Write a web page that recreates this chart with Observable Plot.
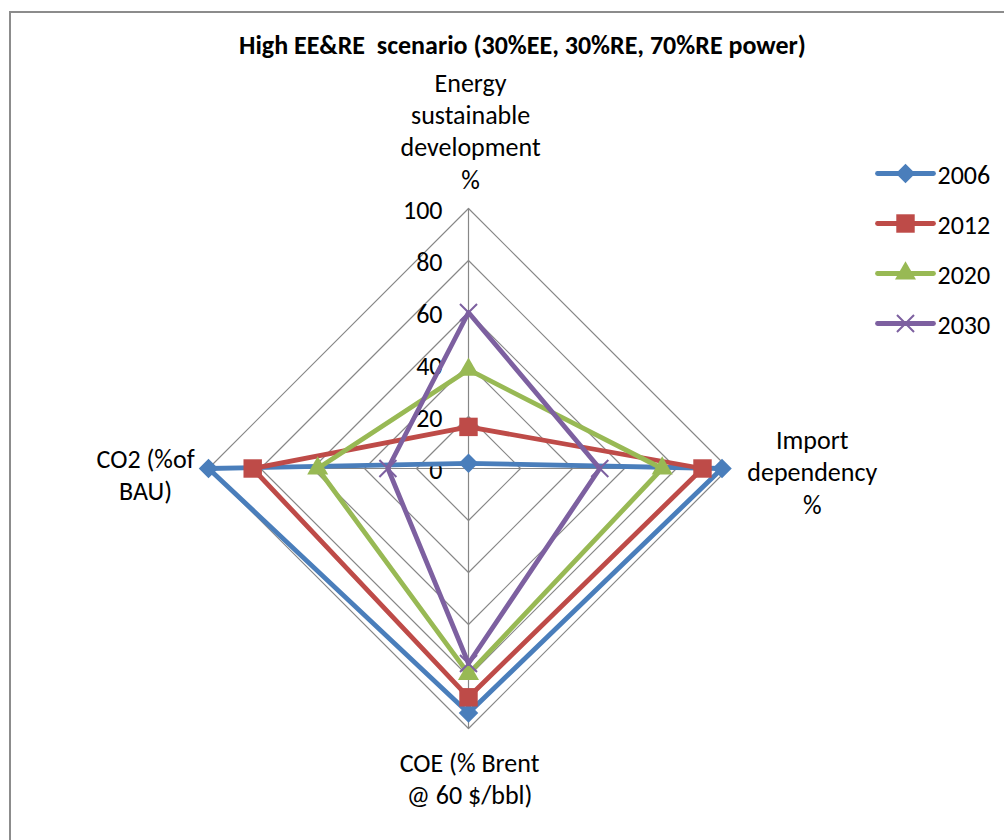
<!DOCTYPE html>
<html>
<head>
<meta charset="utf-8">
<script src="https://cdn.jsdelivr.net/npm/d3@7"></script>
<script src="https://cdn.jsdelivr.net/npm/@observablehq/plot@0.6"></script>
<style>
  html, body { margin: 0; padding: 0; background: #fff; overflow: hidden; }
  #wrap { position: relative; width: 1004px; height: 840px; overflow: hidden; }
  #frame { position: absolute; left: 9px; top: 11px; width: 1200px; height: 1000px;
           border: 2px solid #8c8c8c; box-sizing: border-box; }
  #chart { position: absolute; left: 0; top: 0; }
</style>
</head>
<body>
<div id="wrap"><div id="frame"></div><div id="chart"></div></div>
<script>
// ---- data ----
const axisLabels = ["Energy\nsustainable\ndevelopment\n%", "Import\ndependency\n%", "COE (% Brent\n@ 60 $/bbl)", "CO2 (%of\nBAU)"];
const years = ["2006", "2012", "2020", "2030"];
const v2006 = [2, 97.5, 94, 100];
const v2012 = [16, 90, 88, 83];
const v2020 = [38, 74.5, 79, 58];
const v2030 = [60, 50.5, 75, 31];
const tickValues = [0, 20, 40, 60, 80, 100];
const titleText = "High EE\u0026RE  scenario (30%EE, 30%RE, 70%RE power)";

// ---- styling / layout ----
const colors = ["#4A7EBB", "#BE4B48", "#98B954", "#7D60A0"];
const symbols = ["diamond2", "square", "triangle", "times"];
const symR = [8.8, 10.4, 7.8, 7.8];
const font = "Carlito, Lato, 'Open Sans', sans-serif";
const W = 1004, H = 840, cx = 468, cy = 468, k = 2.6; // px per unit
const maxV = 100;

const angle = i => Math.PI / 2 - i * Math.PI / 2;
const series = [v2006, v2012, v2020, v2030];

const rows = [];
series.forEach((vals, s) => vals.forEach((v, i) => rows.push({
  year: years[s], axis: i, v, x: v * Math.cos(angle(i)), y: v * Math.sin(angle(i))
})));

const grid = [];
tickValues.filter(t => t > 0).forEach(t => axisLabels.forEach((a, i) =>
  grid.push({t, x: t * Math.cos(angle(i)), y: t * Math.sin(angle(i))})));

const spokes = axisLabels.map((a, i) => ({x: maxV * Math.cos(angle(i)), y: maxV * Math.sin(angle(i))}));

// axis label placement (in units)
const labelPos = [
  {x: 0.8, y: 130.2}, {x: 132.2, y: -1}, {x: 0.4, y: -118.8}, {x: -124.2, y: -1.9}
];
const axisRows = axisLabels.map((label, i) => ({label, ...labelPos[i]}));

// legend layout (in units)
const legX1 = (877 - cx) / k, legX2 = (933 - cx) / k, legXm = (905 - cx) / k, legXt = (937 - cx) / k;
const legY = [173, 223, 273, 323].map(p => (cy - p) / k);
const legend = years.map((y, i) => ({year: y, y: legY[i]}));

const fs = 26;
const marks = [
  Plot.line(grid, {x: "x", y: "y", z: "t", curve: "linear-closed", stroke: "#878787", strokeWidth: 1.2}),
  Plot.link(spokes, {x1: 0, y1: 0, x2: "x", y2: "y", stroke: "#878787", strokeWidth: 1.2}),
  Plot.text(tickValues, {x: 0, y: d => d, text: d => String(d), textAnchor: "end", dx: -26, dy: 2,
    fontSize: fs, fill: "#000"}),
  Plot.text(axisRows, {x: "x", y: "y", text: "label", textAnchor: "middle", lineAnchor: "middle",
    lineHeight: 1.24, fontSize: fs, fill: "#000"}),
];

years.forEach((yr, s) => {
  const d = rows.filter(r => r.year === yr);
  marks.push(Plot.line(d, {x: "x", y: "y", curve: "linear-closed", stroke: colors[s], strokeWidth: 4.8,
    strokeLinejoin: "round"}));
  const isStroke = symbols[s] === "times";
  marks.push(Plot.dot(d, {x: "x", y: "y", symbol: () => symbols[s], r: symR[s],
    fill: isStroke ? "none" : colors[s], stroke: isStroke ? colors[s] : "none", strokeWidth: 2}));
  const lg = legend.filter(l => l.year === yr);
  marks.push(Plot.link(lg, {x1: legX1, x2: legX2, y1: "y", y2: "y", stroke: colors[s], strokeWidth: 4.8,
    strokeLinecap: "round"}));
  marks.push(Plot.dot(lg, {x: legXm, y: "y", symbol: () => symbols[s], r: symR[s],
    fill: isStroke ? "none" : colors[s], stroke: isStroke ? colors[s] : "none", strokeWidth: 2}));
  marks.push(Plot.text(lg, {x: legXt, y: "y", text: "year", textAnchor: "start", fontSize: fs, fill: "#000", dy: 2}));
});

marks.push(Plot.text([titleText], {frameAnchor: "top", text: d => d, dx: 20, dy: 45, lineAnchor: "middle",
  fontSize: 26, fontWeight: "bold", fill: "#000"}));

const chart = Plot.plot({
  width: W, height: H,
  marginLeft: 0, marginRight: 0, marginTop: 0, marginBottom: 0,
  style: {fontFamily: font, background: "transparent"},
  x: {domain: [-cx / k, (W - cx) / k], range: [0, W], axis: null},
  y: {domain: [-(H - cy) / k, cy / k], range: [H, 0], axis: null},
  symbol: {type: "identity"},
  marks
});
document.getElementById("chart").appendChild(chart);
</script>
</body>
</html>
